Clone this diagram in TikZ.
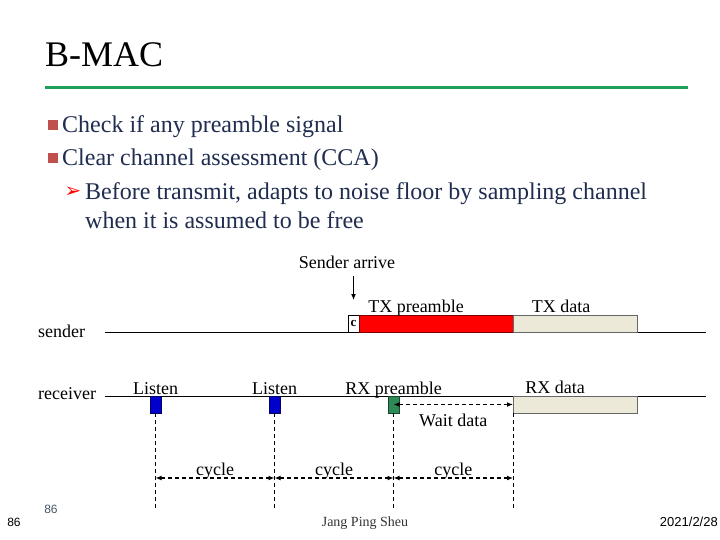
\documentclass[tikz,border=0pt]{standalone}
\usepackage{fontspec}
\setmainfont{Liberation Serif}
\newfontfamily\footsans{Liberation Sans}
\newfontfamily\symfont{DejaVu Sans}
\usepackage{xcolor}
\usepackage{tikz}
\usetikzlibrary{arrows.meta,positioning,calc}
\definecolor{bmgreen}{RGB}{30,160,90}
\definecolor{bmnavy}{RGB}{31,45,80}
\definecolor{bmbullet}{RGB}{192,80,77}
\definecolor{bmred}{RGB}{255,0,0}
\definecolor{bmbeige}{RGB}{236,233,216}
\definecolor{bmblue}{RGB}{0,0,204}
\definecolor{bmteal}{RGB}{46,139,87}
\definecolor{bmslate}{RGB}{70,85,100}
\tikzset{
  headline/.style={anchor=base west, inner sep=0pt, font=\fontsize{36}{40}\selectfont},
  bullettext/.style={anchor=base west, inner sep=0pt, text=bmnavy, font=\fontsize{24}{28}\selectfont},
  bsquare/.style={rectangle, fill=bmbullet, minimum size=10pt, inner sep=0pt},
  lbl/.style={inner sep=0pt, font=\fontsize{18}{20}\selectfont},
  slot/.style={rectangle, inner sep=0pt, outer sep=0pt, minimum height=17pt, anchor=south west, line width=0.8pt},
  timeline/.style={line width=1pt},
  arrow/.style={-{Latex[length=6pt,width=5pt]}, line width=1.4pt},
  span/.style={{Latex[length=6pt,width=5pt]}-{Latex[length=6pt,width=5pt]}, dash pattern=on 4pt off 3pt, line width=1.5pt},
  guide/.style={dash pattern=on 4pt off 3pt, line width=0.9pt},
  footer/.style={inner sep=0pt, font=\footsans\fontsize{12}{12}\selectfont}
}

\begin{document}
\begin{tikzpicture}[x=1pt,y=-1pt]
\useasboundingbox (0,0) rectangle (720,540);
% heading and bullets
\node[headline] (head) at (45,67) {B-MAC};
\draw[bmgreen, line width=3pt] (45,88) -- (688,88);
\node[bsquare] (sq1) at (53,125) {};
\node[bullettext] (b1) at (62,133) {Check if any preamble signal};
\node[bsquare] (sq2) at (53,158) {};
\node[bullettext] (b2) at (62,166) {Clear channel assessment (CCA)};
\node[inner sep=0pt, text=bmred, font=\symfont\fontsize{20}{20}\selectfont] (sub) at (73,192) {➢};
\node[bullettext] (b3) at (85,200) {Before transmit, adapts to noise floor by sampling channel};
\node[bullettext] (b4) at (85,229) {when it is assumed to be free};
% time lines
\coordinate (s0) at (105,332); \coordinate (s1) at (706,332);
\coordinate (r0) at (105,396); \coordinate (r1) at (706,396);
\draw[timeline] (s0) -- (s1);
\draw[timeline] (r0) -- (r1);
\node[lbl, anchor=base west] (snd) at (38,337) {sender};
\node[lbl, anchor=base west] (rcv) at (38,399) {receiver};
% sender side
\node[slot, fill=white, draw=black, minimum width=11pt, font=\bfseries\fontsize{13}{13}\selectfont] (cca) at (348,332) {c};
\node[slot, fill=bmred, draw=bmred!50!black, minimum width=154pt, right=0pt of cca] (txpre) {};
\node[slot, fill=bmbeige, draw=black!60, minimum width=124pt, right=0pt of txpre] (txdat) {};
\node[lbl, anchor=base] at ([xshift=-20pt,yshift=3pt]txpre.north) {TX preamble};
\node[lbl, anchor=base] at ([xshift=-14pt,yshift=3pt]txdat.north) {TX data};
\node[lbl, anchor=base] (arrive) at (347,268) {Sender arrive};
\coordinate (arrtop) at (arrive.south -| cca.north);
\draw[arrow] ([yshift=-8pt]arrtop) -- ([yshift=15pt]cca.north);
% receiver side
\node[slot, anchor=north west, fill=bmblue, draw=bmblue!50!black, minimum width=11pt] (lis1) at (150,396) {};
\node[slot, anchor=north west, fill=bmblue, draw=bmblue!50!black, minimum width=11pt] (lis2) at (269,396) {};
\node[slot, anchor=north west, fill=bmteal, draw=bmteal!50!black, minimum width=11pt] (rxpre) at (388,396) {};
\node[slot, anchor=north west, fill=bmbeige, draw=black!60, minimum width=124pt] (rxdat) at (513,396) {};
\node[lbl, anchor=base] at ([yshift=2pt]lis1.north) {Listen};
\node[lbl, anchor=base] at ([yshift=2pt]lis2.north) {Listen};
\node[lbl, anchor=base] at ([yshift=2pt]rxpre.north) {RX preamble};
\node[lbl, anchor=base] at ([xshift=-20pt,yshift=3pt]rxdat.north) {RX data};
% guides and spans
\coordinate (bot) at (0,508);
\coordinate (cyc) at (0,478);
\foreach \n in {lis1,lis2,rxpre} \draw[guide] (\n.south) -- (\n.south |- bot);
\draw[guide] (rxdat.south west) -- (rxdat.south west |- bot);
\draw[span] (rxpre.center) -- (rxpre.center -| rxdat.west) node[midway, lbl, anchor=base, yshift=-22pt] {Wait data};
\draw[span] (lis1.south |- cyc) -- (lis2.south |- cyc) node[midway, lbl, anchor=base, yshift=3pt] {cycle};
\draw[span] (lis2.south |- cyc) -- (rxpre.south |- cyc) node[midway, lbl, anchor=base, yshift=3pt] {cycle};
\draw[span] (rxpre.south |- cyc) -- (rxdat.south west |- cyc) node[midway, lbl, anchor=base, yshift=3pt] {cycle};
% footer
\node[footer] (pg) at (14,522) {86};
\node[footer, text=bmslate] (pg2) at (51,509) {86};
\node[inner sep=0pt, text=black!80, font=\fontsize{14}{14}\selectfont] (author) at (365,523) {Jang Ping Sheu};
\node[footer, anchor=east, font=\footsans\fontsize{13}{13}\selectfont] (date) at (718,522) {2021/2/28};
\end{tikzpicture}
\end{document}
